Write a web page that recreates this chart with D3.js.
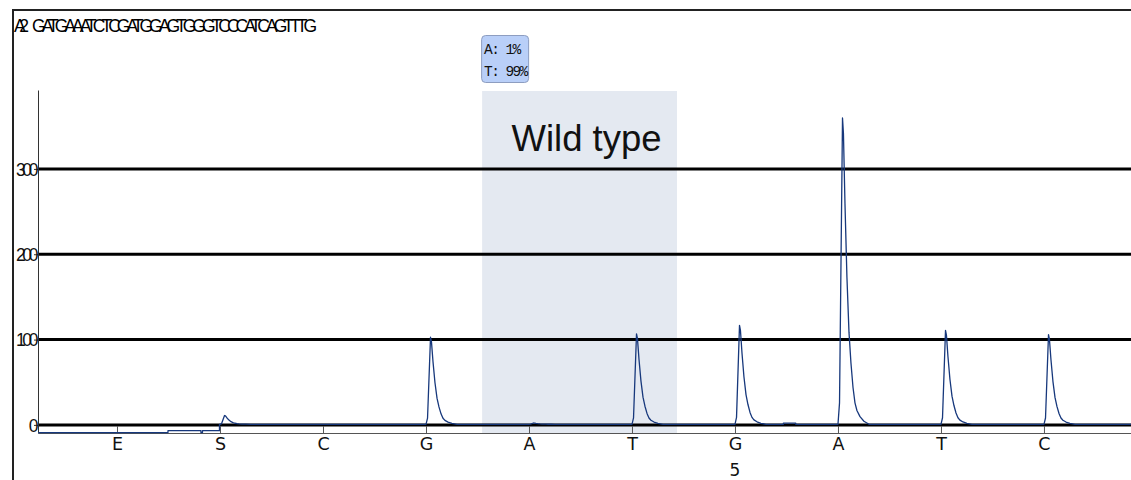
<!DOCTYPE html>
<html>
<head>
<meta charset="utf-8">
<script src="https://cdn.jsdelivr.net/npm/d3@7"></script>
<style>
  html, body { margin: 0; padding: 0; background: #fff; }
  svg { display: block; }
</style>
</head>
<body>
<svg id="chart" width="1131" height="480"></svg>
<script>
// ---------------- data ----------------
const sequenceName = "A2";
const sequenceLabel = "GATGAAATCTCGATGGAGTGGGTCCCATCAGTTTG";
const dispensations = ["E", "S", "C", "G", "A", "T", "G", "A", "T", "C"];
const peakHeights   = [0, 10.3, 0, 102, 1.5, 106, 116, 359, 110, 105];
const dispensationNumberIndex = [6];
const dispensationNumberLabel = ["5"];
const yTickValues = [0, 100, 200, 300];
// baseline of the trace: level that starts at each dispensation position
const baselineStart = [-0.767, 0.495, 0.815, 0.83, 0.995, 6.47, 6.59];
const baselineLevel = [-9, -6.8, -9, -6.8, 0.7, 2, 0.7];
// normalized peak shape (offset in dispensation steps, fraction of height)
const profileOffset = [0, 0.015, 0.044, 0.053, 0.068, 0.087, 0.107, 0.126, 0.146, 0.165, 0.184, 0.214, 0.252, 0.301];
const profileFrac   = [0, 0.07, 1, 0.95, 0.72, 0.48, 0.3, 0.2, 0.12, 0.07, 0.045, 0.025, 0.01, 0];
const variantBases  = ["A", "T"];
const variantPct    = [1, 99];
const regionStart = 3.545, regionEnd = 5.437;
const regionLabel = "Wild type";

// ---------------- layout ----------------
const svg = d3.select("#chart");
const plotLeft = 38, plotRight = 1131, axisY = 433, plotTop = 90;

const x = d3.scaleLinear().domain([-0.767, 9.845]).range([plotLeft, plotRight]);
const y = d3.scaleLinear().domain([-9.5, 392.5]).range([axisY, plotTop]);

// outer frame
svg.append("path")
  .attr("d", `M13,480 L13,10 L1131,10`)
  .attr("fill", "none").attr("stroke", "#222").attr("stroke-width", 2);

// sequence text
svg.append("text")
  .attr("x", 14).attr("y", 32)
  .attr("font-family", "Liberation Sans, Arial, sans-serif")
  .attr("font-size", 17.5)
  .attr("fill", "#000")
  .attr("textLength", 15).attr("lengthAdjust", "spacing")
  .text(sequenceName);
svg.append("text")
  .attr("x", 32).attr("y", 32)
  .attr("font-family", "Liberation Sans, Arial, sans-serif")
  .attr("font-size", 17.5)
  .attr("fill", "#000")
  .attr("textLength", 285).attr("lengthAdjust", "spacing")
  .text(sequenceLabel);

// shaded region
svg.append("rect")
  .attr("x", x(regionStart)).attr("y", plotTop + 1)
  .attr("width", x(regionEnd) - x(regionStart))
  .attr("height", axisY - plotTop - 1)
  .attr("fill", "#e4e9f1");

svg.append("text")
  .attr("x", (x(regionStart) + x(regionEnd)) / 2 + 7).attr("y", 151)
  .attr("text-anchor", "middle")
  .attr("font-family", "Liberation Sans, Arial, sans-serif")
  .attr("font-size", 36.5)
  .attr("fill", "#111")
  .text(regionLabel);

// variant box
const boxG = svg.append("g");
boxG.append("rect")
  .attr("x", x(regionStart) - 0.5).attr("y", 35.5)
  .attr("width", 47).attr("height", 47).attr("rx", 4)
  .attr("fill", "#b9cff8").attr("stroke", "#8d9dc0").attr("stroke-width", 1);
variantBases.forEach((b, i) => {
  boxG.append("text")
    .attr("x", x(regionStart) + 2).attr("y", 54 + i * 22)
    .attr("font-family", "Liberation Mono, Courier New, monospace")
    .attr("font-size", 14.5)
    .attr("letter-spacing", -1.6)
    .attr("fill", "#111")
    .style("white-space", "pre")
    .text(`${b}: ${variantPct[i]}%`);
});

// gridlines
svg.append("g").selectAll("line").data(yTickValues).join("line")
  .attr("x1", plotLeft).attr("x2", plotRight)
  .attr("y1", d => y(d)).attr("y2", d => y(d))
  .attr("stroke", "#000").attr("stroke-width", 3);

// y axis
const yAxis = svg.append("g").attr("transform", `translate(${plotLeft},0)`)
  .call(d3.axisLeft(y).tickValues(yTickValues).tickSizeInner(4).tickSizeOuter(0).tickPadding(-1));
yAxis.select(".domain").attr("stroke", "#333");
yAxis.selectAll(".tick line").attr("stroke", "#333");
yAxis.selectAll(".tick text")
  .attr("font-family", "Liberation Sans, Arial, sans-serif")
  .attr("font-size", 17.5)
  .attr("fill", "#111")
  .attr("letter-spacing", -3.4)
  .attr("dy", "0.36em");

// x axis
const xAxis = svg.append("g").attr("transform", `translate(0,${axisY})`)
  .call(d3.axisBottom(x).tickValues(d3.range(dispensations.length))
    .tickFormat(i => dispensations[i]).tickSizeInner(-7).tickSizeOuter(0).tickPadding(5));
xAxis.select(".domain").attr("stroke", "#555");
xAxis.selectAll(".tick line").attr("stroke", "#555");
xAxis.selectAll(".tick text")
  .attr("font-family", "DejaVu Sans, sans-serif")
  .attr("font-size", 17.5)
  .attr("fill", "#111");

svg.append("g").selectAll("text").data(dispensationNumberIndex).join("text")
  .attr("x", d => x(d)).attr("y", 476)
  .attr("text-anchor", "middle")
  .attr("font-family", "DejaVu Sans, sans-serif")
  .attr("font-size", 17)
  .attr("fill", "#111")
  .text((d, i) => dispensationNumberLabel[i]);

// trace
function baselineAt(v) {
  let lvl = baselineLevel[0];
  baselineStart.forEach((s, i) => { if (v >= s) lvl = baselineLevel[i]; });
  return lvl;
}
const pts = [];
baselineStart.forEach((s, i) => {
  const e = i < baselineStart.length - 1 ? baselineStart[i + 1] : x.domain()[1];
  pts.push([s, baselineLevel[i]], [e, baselineLevel[i]]);
});
peakHeights.forEach((h, i) => {
  if (h <= 0) return;
  profileOffset.forEach((o, k) => {
    pts.push([i + o, baselineAt(i + o) + h * profileFrac[k]]);
  });
});
pts.sort((a, b) => a[0] - b[0]);

svg.append("path")
  .datum(pts)
  .attr("fill", "none")
  .attr("stroke", "#17387c")
  .attr("stroke-width", 1.3)
  .attr("stroke-linejoin", "round")
  .attr("d", d3.line().x(d => x(d[0])).y(d => y(d[1])));
</script>
</body>
</html>
